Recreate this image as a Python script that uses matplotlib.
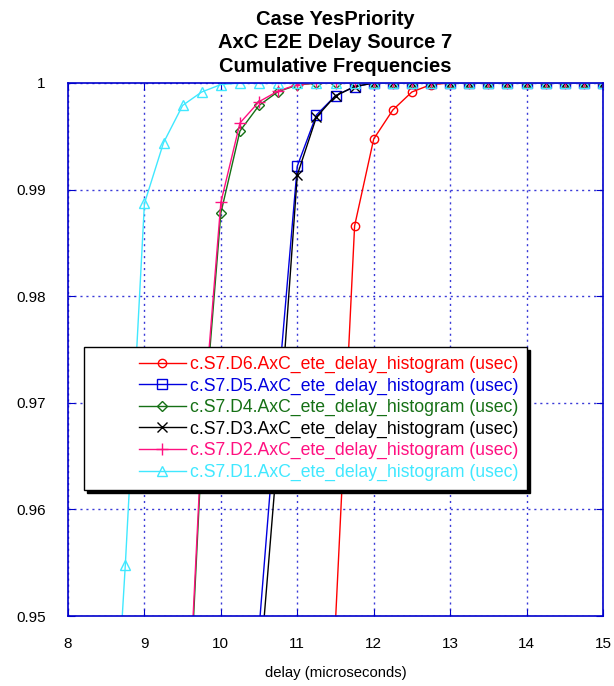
import matplotlib
matplotlib.use("Agg")
import matplotlib.pyplot as plt
from matplotlib.legend_handler import HandlerLine2D

plt.rcParams['font.family'] = ['Liberation Sans', 'DejaVu Sans']

x_delay = [8.0, 8.25, 8.5, 8.75, 9.0, 9.25, 9.5, 9.75, 10.0, 10.25, 10.5, 10.75,
           11.0, 11.25, 11.5, 11.75, 12.0, 12.25, 12.5, 12.75, 13.0, 13.25, 13.5,
           13.75, 14.0, 14.25, 14.5, 14.75, 15.0]

d6 = [0.01, 0.03, 0.06, 0.10, 0.16, 0.24, 0.34, 0.45, 0.56, 0.66, 0.75, 0.82,
      0.87, 0.915, 0.9495, 0.9866, 0.99475, 0.99747, 0.99916, 0.99985, 1.0, 1.0, 1.0,
      1.0, 1.0, 1.0, 1.0, 1.0, 1.0]
d5 = [0.10, 0.20, 0.32, 0.45, 0.58, 0.68, 0.77, 0.83, 0.88, 0.925, 0.9488, 0.9712,
      0.9922, 0.9970, 0.99881, 0.99966, 1.0, 1.0, 1.0, 1.0, 1.0, 1.0, 1.0,
      1.0, 1.0, 1.0, 1.0, 1.0, 1.0]
d4 = [0.40, 0.55, 0.68, 0.79, 0.85, 0.89, 0.929, 0.9655, 0.9878, 0.9955, 0.9979, 0.9992,
      0.9998, 1.0, 1.0, 1.0, 1.0, 1.0, 1.0, 1.0, 1.0, 1.0, 1.0,
      1.0, 1.0, 1.0, 1.0, 1.0, 1.0]
d3 = [0.08, 0.18, 0.30, 0.43, 0.56, 0.66, 0.75, 0.82, 0.87, 0.915, 0.944, 0.9660,
      0.99137, 0.9968, 0.9988, 0.99966, 1.0, 1.0, 1.0, 1.0, 1.0, 1.0, 1.0,
      1.0, 1.0, 1.0, 1.0, 1.0, 1.0]
d2 = [0.41, 0.56, 0.69, 0.80, 0.86, 0.90, 0.930, 0.9665, 0.9888, 0.99625, 0.99825, 0.99925,
      0.99985, 1.0, 1.0, 1.0, 1.0, 1.0, 1.0, 1.0, 1.0, 1.0, 1.0,
      1.0, 1.0, 1.0, 1.0, 1.0, 1.0]
d1 = [0.80, 0.86, 0.9248, 0.9548, 0.9887, 0.9944, 0.9979, 0.99916, 0.99985, 1.0, 1.0, 1.0,
      1.0, 1.0, 1.0, 1.0, 1.0, 1.0, 1.0, 1.0, 1.0, 1.0, 1.0,
      1.0, 1.0, 1.0, 1.0, 1.0, 1.0]

labels = ["c.S7.D6.AxC_ete_delay_histogram (usec)",
          "c.S7.D5.AxC_ete_delay_histogram (usec)",
          "c.S7.D4.AxC_ete_delay_histogram (usec)",
          "c.S7.D3.AxC_ete_delay_histogram (usec)",
          "c.S7.D2.AxC_ete_delay_histogram (usec)",
          "c.S7.D1.AxC_ete_delay_histogram (usec)"]
series = [d6, d5, d4, d3, d2, d1]
colors = ['#ff0000', '#0000e0', '#157015', '#000000', '#ff1080', '#40e8ff']
markers = ['o', 's', 'D', 'x', '+', '^']
msizes = [6, 7, 5, 7, 8, 7]

x_ticks = [8, 9, 10, 11, 12, 13, 14, 15]
y_ticks = [0.95, 0.96, 0.97, 0.98, 0.99, 1.0]
y_ticklabels = ['0.95', '0.96', '0.97', '0.98', '0.99', '1']

fig = plt.figure(figsize=(6.14, 6.86), dpi=100)
ax = fig.add_axes([68 / 614, 1 - 616 / 686, (603 - 68) / 614, (616 - 83) / 686])

handles = []
for ys, c, m, ms, lab in zip(series, colors, markers, msizes, labels):
    ln, = ax.plot(x_delay, ys, color=c, marker=m, markersize=ms, fillstyle='none',
                  markeredgewidth=1.0, linewidth=1.0, label=lab, clip_on=True)
    handles.append(ln)

ax.set_xlim(8, 15)
ax.set_ylim(0.95, 1.0)
ax.set_xticks(x_ticks)
ax.set_xticklabels([str(t) for t in x_ticks])
ax.set_yticks(y_ticks)
ax.set_yticklabels(y_ticklabels)
ax.tick_params(direction='in', length=5, color='#0000cc', labelsize=11,
               top=True, right=True)
ax.tick_params(axis='x', pad=15)
ax.tick_params(axis='y', pad=16)
for sp in ax.spines.values():
    sp.set_color('#0000cc')
    sp.set_linewidth(1.2)
ax.grid(True, color='#3a3ad8', linestyle=(0, (1.5, 2.8)), linewidth=1.0)

ax.set_xlabel('delay (microseconds)', fontsize=10.7, labelpad=11)
ax.set_title('Case YesPriority\nAxC E2E Delay Source 7\nCumulative Frequencies',
             fontsize=14.5, fontweight='bold', linespacing=1.3, pad=8)

fs = 12.7
leg = ax.legend(handles=handles, loc='upper left',
                bbox_to_anchor=((84 - 68) / 535, (616 - 347) / 533),
                fontsize=fs, frameon=True, fancybox=False, edgecolor='black',
                framealpha=1, handlelength=5.3, labelspacing=0.25, borderpad=0.5,
                handletextpad=0.2, borderaxespad=0,
                handler_map={ln: HandlerLine2D(xpad=2.6) for ln in handles},
                shadow={'color': 'black', 'alpha': 1.0})
leg.get_frame().set_linewidth(1.0)
for txt, c in zip(leg.get_texts(), colors):
    txt.set_color(c)

fig.savefig('out.png', dpi=100)
